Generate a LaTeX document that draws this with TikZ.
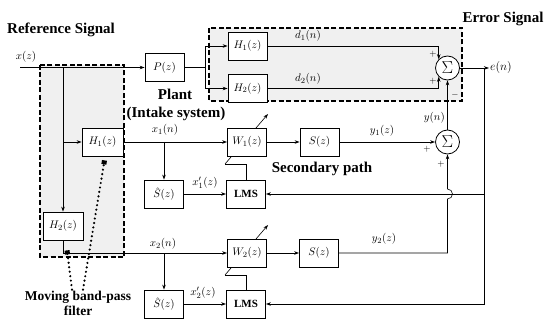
\documentclass[tikz,border=0pt]{standalone}
\usepackage{fontspec}
\setmainfont{Liberation Serif}
\usepackage{tikz}
\usetikzlibrary{
  arrows.meta,
  positioning,
  backgrounds,
  calc
}
\tikzset{
  %% generic box
  block/.style={
    draw, line width=0.8pt, fill=white,
    minimum width=39pt, minimum height=28pt,
    inner sep=0pt,
    font=\fontsize{11}{13}\selectfont
  },
  lmsbox/.style={block, font=\fontsize{11}{13}\selectfont\bfseries},
  %% summing junction
  sumnode/.style={
    draw, circle, line width=0.8pt, fill=white,
    minimum size=24pt, inner sep=0pt,
    font=\fontsize{18}{18}\selectfont
  },
  %% bold captions
  lbl/.style={font=\fontsize{15}{16}\selectfont\bfseries, inner sep=1pt},
  %% signal names and signs
  sig/.style={font=\fontsize{11}{13}\selectfont, inner sep=1pt},
  sgn/.style={font=\fontsize{9}{10}\selectfont, inner sep=0pt},
  %% arrows
  arr/.style={-{Stealth[length=5pt,width=3.5pt]}, line width=0.6pt},
  ln/.style={line width=0.6pt},
  dotarr/.style={line width=2.4pt, dash pattern=on 0pt off 4.5pt,
                 line cap=round, -{Square[length=4pt,width=5pt]}},
  %% shaded dashed frame
  dashframe/.style={
    draw, dash pattern=on 5pt off 2.5pt, line width=1.3pt,
    fill=gray!12
  }
}

\begin{document}
\begin{tikzpicture}[x=1pt, y=-1pt]
\useasboundingbox (0,0) rectangle (545,320);

% ════════════════════════════════════════════════════════════
% INPUT AND PLANT
% ════════════════════════════════════════════════════════════
\node[lbl] (refsig) at (61,30) {Reference Signal};
\node[sig] (xz) at (26,57) {$x(z)$};
\coordinate (xin) at (20,67.5);

\node[block] (p) at (164.5,67.5) {$P(z)$};
\node[lbl] (plant) at (175,94) {Plant};
\node[lbl] (intake) at (176,114) {(Intake system)};
\coordinate (psplit) at (205,67.5);

\node[block] (ph1) at (247.5,46) {$H_1(z)$};
\node[block] (ph2) at (247.5,88.5) {$H_2(z)$};
\node[sig] (d1) at (308,36) {$d_1(n)$};
\node[sig] (d2) at (308,79) {$d_2(n)$};

\node[sumnode] (sum1) at (447.5,68) {$\Sigma$};
\node[sgn] (pl1) at (433,54) {$+$};
\node[sgn] (pl2) at (433,81) {$+$};
\node[sgn] (mi1) at (455,95) {$-$};

\node[lbl] (errsig) at (503,19) {Error Signal};
\node[sig, anchor=west, font=\fontsize{13}{14}\selectfont] (en) at (489,68) {$e(n)$};
\coordinate (ebr) at (484,68);

% ════════════════════════════════════════════════════════════
% MOVING BAND-PASS FILTER
% ════════════════════════════════════════════════════════════
\coordinate (fsplit) at (63,67.5);
\coordinate (fbr) at (63,142);
\node[block, minimum width=41pt] (h1) at (102.5,142) {$H_1(z)$};
\node[block, minimum width=40pt] (h2) at (63,226) {$H_2(z)$};
\node[lbl, align=center, font=\fontsize{13.5}{15}\selectfont\bfseries] (mbpf)
     at (78,303) {Moving band-pass\\filter};

% ════════════════════════════════════════════════════════════
% CHANNEL 1
% ════════════════════════════════════════════════════════════
\node[block] (w1) at (247,142) {$W_1(z)$};
\node[block] (s1) at (319.5,142) {$S(z)$};
\node[block] (sh1) at (164,194) {$\hat{S}(z)$};
\node[lmsbox] (lms1) at (246,194) {LMS};
\node[sig] (x1n) at (165,130) {$x_1(n)$};
\node[sig] (x1p) at (205,183) {$x_1'(z)$};
\node[sig] (y1z) at (382,131) {$y_1(z)$};
\coordinate (b1) at (164,142);
\coordinate (a1) at (225,164);
\coordinate (a1e) at (268,114);

\node[sumnode] (sum2) at (447.5,142) {$\Sigma$};
\node[sgn] (pl3) at (427,149) {$+$};
\node[sgn] (pl4) at (441,164) {$+$};
\node[sig, anchor=east] (yn) at (446,118) {$y(n)$};
\node[lbl] (secpath) at (322,169) {Secondary path};

% ════════════════════════════════════════════════════════════
% CHANNEL 2
% ════════════════════════════════════════════════════════════
\node[block] (w2) at (247,253) {$W_2(z)$};
\node[block] (s2) at (319,253) {$S(z)$};
\node[block] (sh2) at (164,304) {$\hat{S}(z)$};
\node[lmsbox] (lms2) at (246,304) {LMS};
\node[sig] (x2n) at (163,244) {$x_2(n)$};
\node[sig] (x2p) at (203,293) {$x_2'(z)$};
\node[sig] (y2z) at (384,239) {$y_2(z)$};
\coordinate (b2) at (164,253);
\coordinate (a2) at (225,275);
\coordinate (a2e) at (268,225);
\coordinate (hop) at (447.5,194);

% ════════════════════════════════════════════════════════════
% FRAMES AND ADAPTATION LINES (behind the boxes)
% ════════════════════════════════════════════════════════════
\begin{scope}[on background layer]
  \draw[dashframe] (40,65) rectangle (124,257);
  \draw[dashframe] (209,28) rectangle (462,101);
  \draw[arr] (a1) -- (a1e);
  \draw[arr] (a2) -- (a2e);
\end{scope}

% ════════════════════════════════════════════════════════════
% ARROWS
% ════════════════════════════════════════════════════════════
\draw[arr] (xin) -- (p);
\draw[ln]  (p) -- (psplit);
\draw[arr] (psplit) |- (ph1);
\draw[arr] (psplit) |- (ph2);
\draw[arr] (ph1) -| (sum1.north west);
\draw[arr] (ph2) -| (sum1.south west);
\draw[arr] (sum1) -- (en);

\draw[arr] (fsplit) -- (h2);
\draw[arr] (fbr) -- (h1);

% channel 1
\draw[arr] (h1) -- (w1);
\draw[arr] (w1) -- (s1);
\draw[arr] (s1) -- (sum2);
\draw[arr] (b1) -- (sh1);
\draw[arr] (sh1) -- (lms1);
\draw[ln]  (lms1.north) |- (a1);

% channel 2
\draw[arr] (h2.south) |- (w2);
\draw[arr] (w2) -- (s2);
\draw[arr] (b2) -- (sh2);
\draw[arr] (sh2) -- (lms2);
\draw[ln]  (lms2.north) |- (a2);

% secondary outputs summed, with a hop over the error line
\draw[arr] (s2) -| ($(hop)+(0,5)$) arc[start angle=-90, end angle=90, radius=5pt] -- (sum2);
\draw[arr] (sum2) -- (sum1);

% error feedback to both LMS blocks
\draw[arr] (ebr) |- (lms1);
\draw[arr] (ebr) |- (lms2);

% pointers to the filter outputs
\draw[dotarr] ([xshift=-6pt]mbpf.north) -- ([xshift=4pt,yshift=-10pt]h2.south);
\draw[dotarr] ([xshift=5pt]mbpf.north) -- ([xshift=2pt,yshift=-4pt]h1.south);

\end{tikzpicture}
\end{document}
